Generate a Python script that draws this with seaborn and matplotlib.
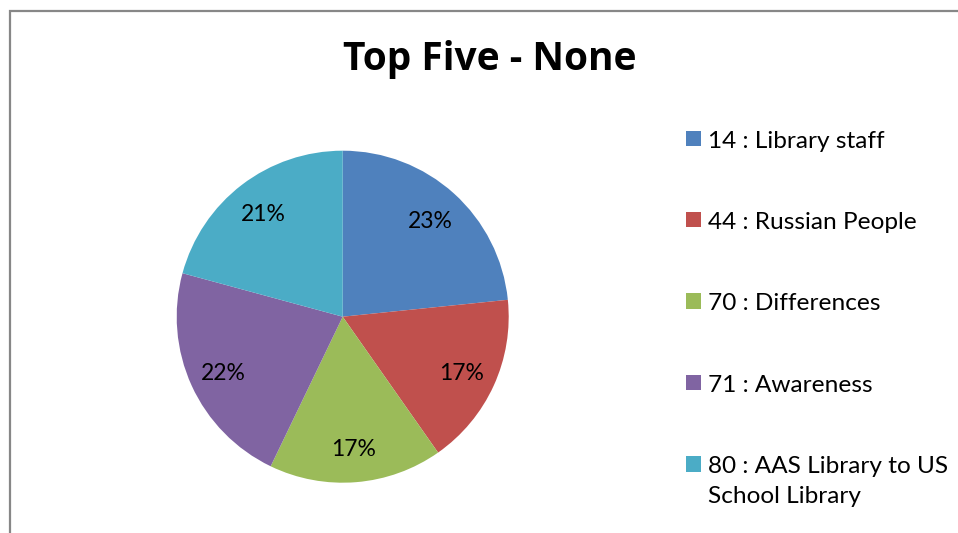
import matplotlib
matplotlib.use("Agg")
import matplotlib.pyplot as plt
import seaborn as sns
from matplotlib.patches import Rectangle, Patch

# ---- data ----
topics = ["14 : Library staff", "44 : Russian People", "70 : Differences",
          "71 : Awareness", "80 : AAS Library to US\nSchool Library"]
counts = [18, 13, 13, 17, 16]
slice_colors = ["#4F81BD", "#C0504D", "#9BBB59", "#8064A2", "#4BACC6"]
title = "Top Five - None"

sns.set_theme(style="white")
plt.rcParams["font.family"] = ["Lato", "DejaVu Sans"]
plt.rcParams["text.color"] = "black"

W, H = 958, 533
fig = plt.figure(figsize=(W / 100, H / 100), dpi=100)
fig.patch.set_facecolor("white")

# pie area: centre ~ (343, 317) px, radius ~166 px
r = 166
cx, cy = 342.7, 316.7
ax = fig.add_axes([(cx - r) / W, (H - cy - r) / H, 2 * r / W, 2 * r / H])
palette = sns.color_palette(slice_colors)
wedges, texts, autotexts = ax.pie(counts, colors=palette, startangle=90,
                                  counterclock=False, autopct="%.0f%%",
                                  pctdistance=0.79,
                                  textprops={"fontsize": 16.5, "color": "black"},
                                  wedgeprops={"linewidth": 0})
for t in autotexts:
    t.set_va("center_baseline")
ax.set_xlim(-1, 1)
ax.set_ylim(-1, 1)
ax.axis("off")

# title
fig.text(489.5 / W, 1 - 70.3 / H, title, ha="center", va="baseline",
         fontsize=28, fontweight="bold", color="black",
         family=["Open Sans", "DejaVu Sans"])

# legend
handles = [Patch(facecolor=c, edgecolor="none") for c in slice_colors]
leg = fig.legend(handles, topics, loc="upper left",
                 bbox_to_anchor=(686 / W, 1 - 130.5 / H), frameon=False,
                 fontsize=17.6, handlelength=0.6, handleheight=0.6,
                 handletextpad=0.3, labelspacing=2.47, borderpad=0,
                 borderaxespad=0, labelcolor="black")
for t in leg.get_texts():
    t.set_linespacing(1.55)
# keep the square next to the first line of a wrapped label
for col in leg._legend_handle_box.get_children():
    for row in col.get_children():
        row.align = "top"

# outer chart border (runs off the right/bottom edges)
fig.patches.append(Rectangle((10 / W, -0.2), 1.5, 1.2 - 10.5 / H,
                             transform=fig.transFigure, fill=False,
                             edgecolor="#878787", linewidth=1.6, clip_on=False))

fig.savefig("out.png", dpi=100)
